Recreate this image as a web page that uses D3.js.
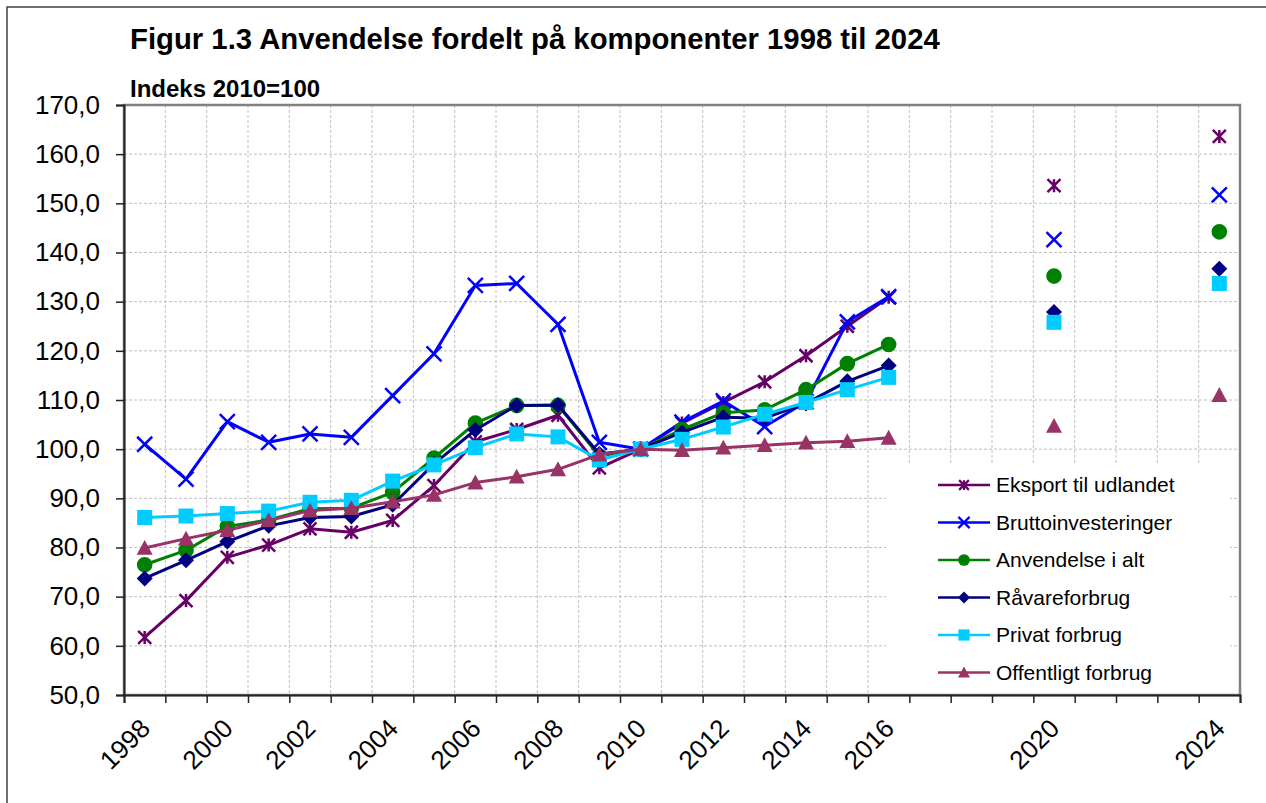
<!DOCTYPE html>
<html>
<head>
<meta charset="utf-8">
<script src="https://cdn.jsdelivr.net/npm/d3@7"></script>
<style>
  body { margin: 0; background: #fff; }
  svg { display: block; font-family: "Liberation Sans", Arial, sans-serif; }
</style>
</head>
<body>
<svg id="chart"></svg>
<script>
// kategorier (årstal) - 1998 til 2024
const years = d3.range(1998, 2025);
const yearLabels = [1998, 2000, 2002, 2004, 2006, 2008, 2010, 2012, 2014, 2016, 2020, 2024];
const yTicks = [50, 60, 70, 80, 90, 100, 110, 120, 130, 140, 150, 160, 170];

// historik 1998-2016
const histYears = d3.range(1998, 2017);
const eksport    = [61.7, 69.2, 78.0, 80.5, 83.8, 83.1, 85.5, 92.6, 101.5, 104.0, 106.9, 96.2, 100.0, 105.3, 109.5, 113.7, 119.0, 125.0, 130.9];
const brutto     = [101.0, 93.9, 105.6, 101.4, 103.1, 102.4, 110.9, 119.4, 133.3, 133.7, 125.4, 101.4, 100.0, 105.5, 109.8, 104.6, 109.6, 125.9, 131.0];
const anvendelse = [76.5, 79.4, 84.3, 85.6, 87.9, 88.0, 91.2, 98.2, 105.3, 108.9, 108.9, 98.6, 100.0, 104.0, 107.4, 108.0, 112.1, 117.4, 121.3];
const raavare    = [73.7, 77.4, 81.2, 84.4, 86.1, 86.3, 88.7, 97.0, 103.9, 108.9, 109.0, 99.0, 100.0, 103.4, 106.5, 106.3, 109.3, 113.8, 117.0];
const privat     = [86.1, 86.4, 86.9, 87.4, 89.2, 89.6, 93.5, 96.8, 100.3, 103.1, 102.5, 97.8, 100.0, 102.0, 104.5, 107.1, 109.5, 112.1, 114.6];
const offentlig  = [79.9, 81.8, 83.5, 85.5, 87.5, 88.0, 89.3, 90.7, 93.2, 94.4, 95.9, 98.9, 100.0, 99.8, 100.3, 100.8, 101.3, 101.6, 102.3];

// fremskrivninger 2020 og 2024 (kun punkter)
const projYears = [2020, 2024];
const eksportProj    = [153.6, 163.6];
const bruttoProj     = [142.6, 151.7];
const anvendelseProj = [135.2, 144.2];
const raavareProj    = [127.9, 136.7];
const privatProj     = [125.8, 133.7];
const offentligProj  = [104.7, 111.0];

const seriesNames = ["Eksport til udlandet", "Bruttoinvesteringer", "Anvendelse i alt", "Råvareforbrug", "Privat forbrug", "Offentligt forbrug"];
const seriesColors = ["#660066", "#0000ff", "#008000", "#000080", "#00ccff", "#993366"];
const seriesMarkers = ["star", "x", "circle", "diamond", "square", "triangle"];

const series = seriesNames.map((name, i) => ({
    name: name,
    color: seriesColors[i],
    marker: seriesMarkers[i],
    hist: [eksport, brutto, anvendelse, raavare, privat, offentlig][i].map((v, j) => ({ year: histYears[j], value: v })),
    proj: [eksportProj, bruttoProj, anvendelseProj, raavareProj, privatProj, offentligProj][i].map((v, j) => ({ year: projYears[j], value: v }))
}));

function markerPath(type, k = 1) {
    const p = d3.path();
    if (type === "star") {
        const s = 6.5 * k;
        p.moveTo(-s, -s); p.lineTo(s, s);
        p.moveTo(-s, s); p.lineTo(s, -s);
        p.moveTo(0, -s); p.lineTo(0, s);
    } else if (type === "x") {
        const s = 7.5 * k;
        p.moveTo(-s, -s); p.lineTo(s, s);
        p.moveTo(-s, s); p.lineTo(s, -s);
    } else if (type === "circle") {
        const r = 7.8 * k;
        p.moveTo(r, 0); p.arc(0, 0, r, 0, 2 * Math.PI);
    } else if (type === "diamond") {
        const s = 8 * k;
        p.moveTo(0, -s); p.lineTo(s, 0); p.lineTo(0, s); p.lineTo(-s, 0); p.closePath();
    } else if (type === "square") {
        const s = 7.5 * k;
        p.rect(-s, -s, 2 * s, 2 * s);
    } else if (type === "triangle") {
        const s = 8 * k;
        p.moveTo(0, -s); p.lineTo(s, s * 0.85); p.lineTo(-s, s * 0.85); p.closePath();
    }
    return p.toString();
}
const openMarker = t => t === "star" || t === "x";

const width = 1266, height = 803;
const plot = { left: 124, right: 1240, top: 105, bottom: 695 };

const svg = d3.select("#chart").attr("width", width).attr("height", height);

// ramme om hele figuren
svg.append("rect")
    .attr("x", 7).attr("y", 7).attr("width", 1400).attr("height", 1000)
    .attr("fill", "none").attr("stroke", "#404040").attr("stroke-width", 1.5);

svg.append("text")
    .attr("x", 130).attr("y", 49)
    .style("font-size", "29.3px").style("font-weight", "bold")
    .text("Figur 1.3 Anvendelse fordelt på komponenter 1998 til 2024");

svg.append("text")
    .attr("x", 130).attr("y", 97)
    .style("font-size", "24px").style("font-weight", "bold")
    .text("Indeks 2010=100");

const x = d3.scaleBand().domain(years).range([plot.left, plot.right]).padding(0);
const xEdge = d3.scaleLinear().domain([0, years.length]).range([plot.left, plot.right]);
const y = d3.scaleLinear().domain([50, 170]).range([plot.bottom, plot.top]);
const cx = yr => x(yr) + x.bandwidth() / 2;

// gitterlinjer
const grid = svg.append("g").attr("stroke", "#c0c0c0").attr("stroke-width", 1).attr("stroke-dasharray", "3,2");
grid.selectAll(".h").data(yTicks.slice(1, -1)).join("line")
    .attr("x1", plot.left).attr("x2", plot.right)
    .attr("y1", d => y(d)).attr("y2", d => y(d));
grid.selectAll(".v").data(d3.range(1, years.length)).join("line")
    .attr("x1", d => xEdge(d)).attr("x2", d => xEdge(d))
    .attr("y1", plot.top).attr("y2", plot.bottom);

// hvid baggrund bag forklaringen
svg.append("rect")
    .attr("x", 886).attr("y", 465).attr("width", 344).attr("height", 228)
    .attr("fill", "#fff");

// plotområdets kant
svg.append("rect")
    .attr("x", plot.left).attr("y", plot.top)
    .attr("width", plot.right - plot.left).attr("height", plot.bottom - plot.top)
    .attr("fill", "none").attr("stroke", "#808080").attr("stroke-width", 2.5);

// akser
const yAxis = svg.append("g")
    .attr("transform", `translate(${plot.left},0)`)
    .call(d3.axisLeft(y).tickValues(yTicks).tickSize(8).tickPadding(16)
        .tickFormat(d => d3.format(".1f")(d).replace(".", ",")));
yAxis.selectAll("text").style("font-size", "26px").attr("fill", "#000");

const xAxis = svg.append("g")
    .attr("transform", `translate(0,${plot.bottom})`)
    .call(d3.axisBottom(xEdge).tickValues(d3.range(0, years.length + 1)).tickSize(8).tickFormat(""));

[yAxis, xAxis].forEach(a => {
    a.select(".domain").attr("stroke", "#222").attr("stroke-width", 2);
    a.selectAll(".tick line").attr("stroke", "#222").attr("stroke-width", 1.5);
});

svg.append("g").selectAll("text").data(yearLabels).join("text")
    .attr("transform", d => `translate(${cx(d) - 6},${plot.bottom + 22}) rotate(-45)`)
    .attr("text-anchor", "end")
    .attr("dy", "0.71em")
    .style("font-size", "26px")
    .text(d => d);

// serier
const line = d3.line().x(d => cx(d.year)).y(d => y(d.value));

series.forEach(s => {
    const g = svg.append("g");
    g.append("path")
        .datum(s.hist)
        .attr("d", line)
        .attr("fill", "none")
        .attr("stroke", s.color)
        .attr("stroke-width", 3)
        .attr("stroke-linejoin", "round");

    g.selectAll(".pt").data(s.hist.concat(s.proj)).join("path")
        .attr("transform", d => `translate(${cx(d.year)},${y(d.value)})`)
        .attr("d", markerPath(s.marker))
        .attr("fill", openMarker(s.marker) ? "none" : s.color)
        .attr("stroke", s.color)
        .attr("stroke-width", openMarker(s.marker) ? 2.5 : 0);
});

// forklaring
const legend = svg.append("g").selectAll("g").data(series).join("g")
    .attr("transform", (d, i) => `translate(938, ${485 + i * 37.5})`);

legend.append("line")
    .attr("x1", 0).attr("x2", 52)
    .attr("stroke", d => d.color).attr("stroke-width", 2.5);

legend.append("path")
    .attr("transform", "translate(26,0)")
    .attr("d", d => markerPath(d.marker, 0.75))
    .attr("fill", d => openMarker(d.marker) ? "none" : d.color)
    .attr("stroke", d => d.color)
    .attr("stroke-width", d => openMarker(d.marker) ? 2.2 : 0);

legend.append("text")
    .attr("x", 58).attr("dy", "0.35em")
    .style("font-size", "21px")
    .text(d => d.name);
</script>
</body>
</html>
